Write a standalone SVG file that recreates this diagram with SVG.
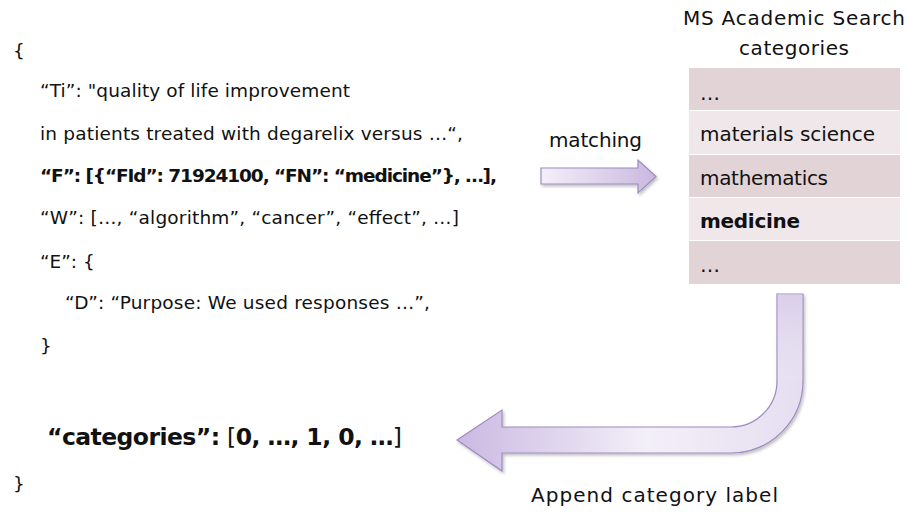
<svg xmlns="http://www.w3.org/2000/svg" width="908" height="512" viewBox="0 0 908 512">
  <defs>
    <style>
      text { font-family: "DejaVu Sans", "Liberation Sans", sans-serif; fill: #111; }
      .code { font-size: 18.5px; }
      .b { font-weight: bold; }
      .lbl { font-size: 20px; }
      .cat { font-size: 20px; }
      .rowA { fill: #e2d3d7; }
      .rowB { fill: #efe7ea; }
      .arrow { stroke: #9d8bc2; stroke-width: 1.2; }
    </style>
    <linearGradient id="gMatch" x1="0" y1="0" x2="1" y2="0">
      <stop offset="0" stop-color="#f4f0f8"/>
      <stop offset="1" stop-color="#c9b8e0"/>
    </linearGradient>
    <linearGradient id="gBend" x1="457" y1="0" x2="803" y2="0" gradientUnits="userSpaceOnUse">
      <stop offset="0" stop-color="#cbb9e2"/>
      <stop offset="0.55" stop-color="#f3eff8"/>
      <stop offset="1" stop-color="#e6def0"/>
    </linearGradient>
    <linearGradient id="gBendV" x1="0" y1="294" x2="0" y2="420" gradientUnits="userSpaceOnUse">
      <stop offset="0" stop-color="#d6c9e8"/>
      <stop offset="1" stop-color="#f3eff8" stop-opacity="0"/>
    </linearGradient>
    <filter id="sh" x="-10%" y="-10%" width="130%" height="130%">
      <feDropShadow dx="1.5" dy="2" stdDeviation="1.5" flood-color="#000" flood-opacity="0.25"/>
    </filter>
  </defs>

  <!-- JSON record -->
  <g id="record">
    <text class="code" x="13" y="57">{</text>
    <text class="code" x="40" y="97" textLength="310">“Ti”: "quality of life improvement</text>
    <text class="code" x="40" y="140" textLength="423">in patients treated with degarelix versus …“,</text>
    <text class="code b" x="40" y="182" textLength="457">“F”: [{“FId”: 71924100, “FN”: “medicine”}, …],</text>
    <text class="code" x="40" y="224" textLength="419">“W”: […, “algorithm”, “cancer”, “effect”, …]</text>
    <text class="code" x="40" y="268">“E”: {</text>
    <text class="code" x="65" y="309" textLength="365">“D”: “Purpose: We used responses …”,</text>
    <text class="code" x="40" y="352">}</text>
    <text class="b" x="47" y="445" font-size="23.5" textLength="355">“categories”: <tspan font-weight="normal">[</tspan>0, …, 1, 0, …<tspan font-weight="normal">]</tspan></text>
    <text class="code" x="13" y="490">}</text>
  </g>

  <!-- category table -->
  <g id="categories">
    <text class="lbl" x="683" y="25" textLength="222">MS Academic Search</text>
    <text class="lbl" x="739" y="55" textLength="110">categories</text>
    <rect class="rowA" x="689" y="68" width="211" height="42"/>
    <rect class="rowB" x="689" y="111" width="211" height="43"/>
    <rect class="rowA" x="689" y="155" width="211" height="42"/>
    <rect class="rowB" x="689" y="198" width="211" height="42"/>
    <rect class="rowA" x="689" y="241" width="211" height="43"/>
    <text class="cat" x="700" y="100">…</text>
    <text class="cat" x="700" y="141" textLength="175">materials science</text>
    <text class="cat" x="700" y="185" textLength="128">mathematics</text>
    <text class="cat b" x="700" y="228" textLength="100">medicine</text>
    <text class="cat" x="700" y="272">…</text>
  </g>

  <!-- connectors -->
  <g id="connectors">
    <g id="matching">
      <text class="lbl" x="549" y="147" textLength="93">matching</text>
      <path class="arrow" filter="url(#sh)" fill="url(#gMatch)"
            d="M541,168 H638 V160 L656,176.5 L638,193 V184 H541 Z"/>
    </g>
    <g id="append">
      <path class="arrow" filter="url(#sh)" fill="url(#gBend)"
            d="M777,294 H803 V381 A72,72 0 0 1 731,453 H502 V471 L457,440 L502,410 V427 H731 A46,46 0 0 0 777,381 Z"/>
      <path fill="url(#gBendV)" d="M777.6,294.6 H802.4 V381 H777.6 Z" opacity="0.8"/>
      <text class="lbl" x="531" y="502" textLength="247">Append category label</text>
    </g>
  </g>
</svg>
